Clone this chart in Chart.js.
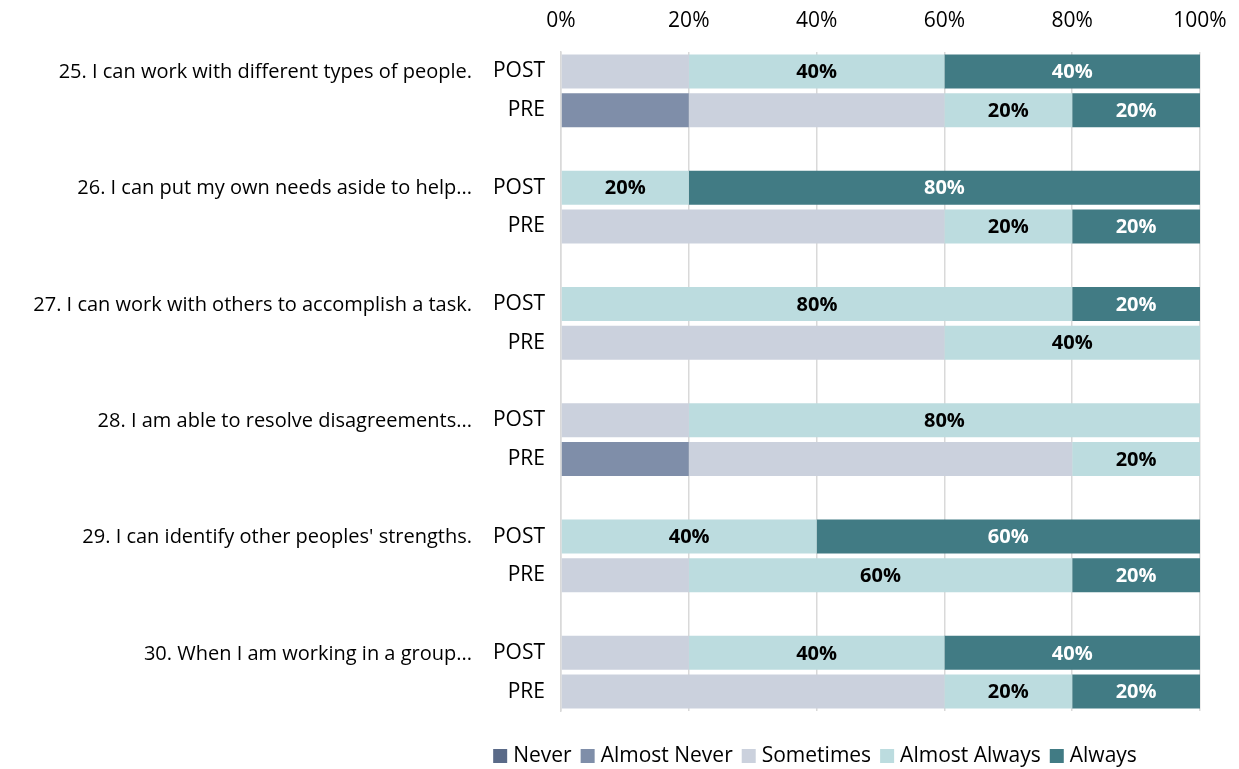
<!DOCTYPE html>
<html>
<head>
<meta charset="utf-8">
<script src="https://cdn.jsdelivr.net/npm/chart.js@4/dist/chart.umd.min.js"></script>
<style>
  html, body { margin: 0; padding: 0; background: #fff; }
  #wrap { width: 1239px; height: 769px; }
</style>
</head>
<body>
<div id="wrap"><canvas id="c" width="1239" height="769"></canvas></div>
<script>
// Survey items (one per POST/PRE pair)
const questions = [
  '25. I can work with different types of people.',
  '26. I can put my own needs aside to help...',
  '27. I can work with others to accomplish a task.',
  '28. I am able to resolve disagreements...',
  "29. I can identify other peoples' strengths.",
  '30. When I am working in a group...'
];
// Row labels; empty rows separate the item groups
const rowLabels = ['POST','PRE','', 'POST','PRE','', 'POST','PRE','', 'POST','PRE','', 'POST','PRE','', 'POST','PRE'];

// Percent of responses per row
const never        = [0, 0, null, 0, 0, null, 0, 0, null, 0, 0, null, 0, 0, null, 0, 0];
const almostNever  = [0, 20, null, 0, 0, null, 0, 0, null, 0, 20, null, 0, 0, null, 0, 0];
const sometimes    = [20, 40, null, 0, 60, null, 0, 60, null, 20, 60, null, 0, 20, null, 20, 60];
const almostAlways = [40, 20, null, 20, 20, null, 80, 40, null, 80, 20, null, 40, 60, null, 40, 20];
const always       = [40, 20, null, 80, 20, null, 20, 0, null, 0, 0, null, 60, 20, null, 40, 20];

const xTicks = [0, 20, 40, 60, 80, 100];

const FONT = "'Open Sans', sans-serif";
const FS = 21;

// Percent labels inside the "Almost Always" and "Always" segments
const valueLabels = {
  id: 'valueLabels',
  afterDatasetsDraw(chart) {
    const ctx = chart.ctx;
    ctx.save();
    ctx.font = 'bold 20px ' + FONT;
    ctx.textAlign = 'center';
    ctx.textBaseline = 'middle';
    chart.data.datasets.forEach((ds, di) => {
      if (!ds.showLabels) return;
      const meta = chart.getDatasetMeta(di);
      meta.data.forEach((bar, i) => {
        const v = ds.data[i];
        if (!v) return;
        const p = bar.getProps(['x', 'y', 'base'], true);
        ctx.fillStyle = ds.labelColor;
        ctx.fillText(v + '%', (p.x + p.base) / 2, p.y + 1);
      });
    });
    ctx.restore();
  }
};

// Item text to the left of each POST row
const questionLabels = {
  id: 'questionLabels',
  afterDraw(chart) {
    const ctx = chart.ctx;
    const y = chart.scales.y;
    ctx.save();
    ctx.font = '20px ' + FONT;
    ctx.fillStyle = '#000';
    ctx.textAlign = 'right';
    ctx.textBaseline = 'middle';
    questions.forEach((q, k) => {
      ctx.fillText(q, 472, y.getPixelForValue(k * 3) + 1);
    });
    ctx.restore();
  }
};

// Legend row under the plot: square swatch, then the series name
const bottomLegend = {
  id: 'bottomLegend',
  afterDraw(chart) {
    const ctx = chart.ctx;
    const box = 14, gapText = 6, gapItem = 9, cy = 756, cx = 815;
    ctx.save();
    ctx.font = FS + 'px ' + FONT;
    ctx.textBaseline = 'middle';
    ctx.textAlign = 'left';
    const items = chart.data.datasets.map(ds => ({
      label: ds.label, color: ds.backgroundColor, w: ctx.measureText(ds.label).width
    }));
    const total = items.reduce((s, it) => s + box + gapText + it.w, 0) + gapItem * (items.length - 1);
    let x = cx - total / 2;
    items.forEach(it => {
      ctx.fillStyle = it.color;
      ctx.fillRect(x, cy - box / 2, box, box);
      x += box + gapText;
      ctx.fillStyle = '#000';
      ctx.fillText(it.label, x, cy);
      x += it.w + gapItem;
    });
    ctx.restore();
  }
};

const mk = (label, data, color, showLabels, labelColor) => ({
  label, data, backgroundColor: color, borderWidth: 0,
  barPercentage: 0.877, categoryPercentage: 1.0,
  showLabels, labelColor
});

new Chart(document.getElementById('c'), {
  type: 'bar',
  data: {
    labels: rowLabels,
    datasets: [
      mk('Never', never, '#5a6a88', false),
      mk('Almost Never', almostNever, '#7f8ea9', false),
      mk('Sometimes', sometimes, '#cbd1dd', false),
      mk('Almost Always', almostAlways, '#bcdcdf', true, '#000'),
      mk('Always', always, '#417b84', true, '#fff')
    ]
  },
  options: {
    indexAxis: 'y',
    responsive: false,
    animation: false,
    devicePixelRatio: 1,
    layout: { padding: { top: 0, right: 39, bottom: 58, left: 0 } },
    plugins: {
      legend: { display: false },
      tooltip: { enabled: false }
    },
    scales: {
      x: {
        position: 'top',
        stacked: true,
        min: 0, max: 100,
        afterBuildTicks(scale) { scale.ticks = xTicks.map(v => ({ value: v })); },
        afterFit(scale) {
          scale.height = 52;
          scale.paddingLeft = 0;
          scale.paddingRight = 0;
        },
        ticks: {
          callback: v => v + '%',
          font: { family: FONT, size: FS },
          color: '#000',
          padding: 18,
          maxRotation: 0
        },
        grid: { color: '#d9d9d9', lineWidth: 1.5, drawTicks: false },
        border: { display: false }
      },
      y: {
        stacked: true,
        afterFit(scale) { scale.width = 561; },
        ticks: {
          font: { family: FONT, size: FS },
          color: '#000',
          padding: 8,
          autoSkip: false
        },
        grid: { display: false },
        border: { color: '#d9d9d9', width: 1.5 }
      }
    }
  },
  plugins: [valueLabels, questionLabels, bottomLegend]
});
</script>
</body>
</html>
